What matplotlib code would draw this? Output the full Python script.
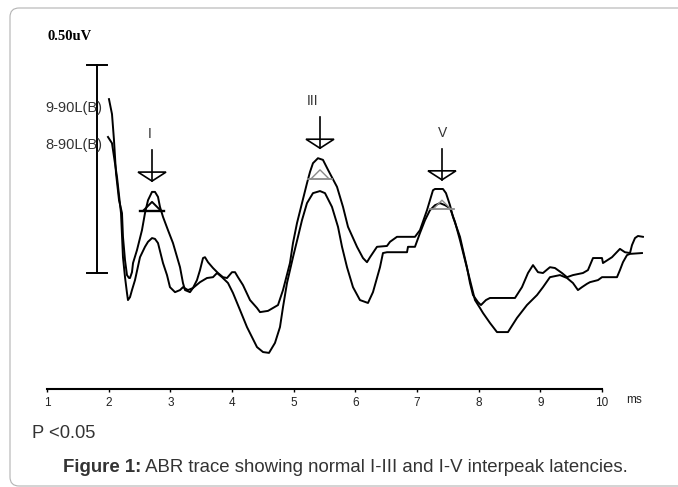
import matplotlib
matplotlib.use("Agg")
import matplotlib.pyplot as plt
import matplotlib.transforms as mtransforms
from matplotlib.patches import FancyBboxPatch, Polygon

plt.rcParams['font.family'] = ['Liberation Sans', 'DejaVu Sans']

# ABR traces, time in ms, amplitude in uV (display offset included)
trace_a_ms = [2.005, 2.054, 2.086, 2.119, 2.168, 2.216, 2.232, 2.265, 2.297, 2.33, 2.346, 2.378,
              2.395, 2.459, 2.54, 2.589, 2.638, 2.703, 2.751, 2.8, 2.832, 2.881, 2.962, 3.043,
              3.157, 3.205, 3.238, 3.319, 3.367, 3.432, 3.481, 3.53, 3.562, 3.611, 3.692, 3.773,
              3.854, 3.919, 4.0, 4.049, 4.097, 4.178, 4.292, 4.405, 4.454, 4.584, 4.746, 4.827,
              4.94, 4.989, 5.054, 5.135, 5.216, 5.265, 5.313, 5.394, 5.475, 5.557, 5.703, 5.8,
              5.881, 6.027, 6.124, 6.189, 6.238, 6.351, 6.513, 6.562, 6.675, 6.967, 7.048, 7.162,
              7.259, 7.292, 7.421, 7.47, 7.535, 7.583, 7.697, 7.746, 7.81, 7.859, 7.908, 7.989,
              8.037, 8.118, 8.183, 8.589, 8.702, 8.8, 8.881, 8.962, 9.043, 9.156, 9.237, 9.351,
              9.432, 9.529, 9.691, 9.772, 9.854, 10.0, 10.016, 10.162, 10.291, 10.372, 10.454,
              10.486, 10.535, 10.583, 10.664]
trace_a_uv = [0.418, 0.382, 0.320, 0.240, 0.175, 0.144, 0.087, 0.031, -0.005, -0.012, -0.012, 0.002,
              0.024, 0.055, 0.103, 0.144, 0.175, 0.195, 0.195, 0.183, 0.159, 0.135, 0.103, 0.072,
              0.014, -0.024, -0.041, -0.046, -0.036, -0.017, 0.007, 0.036, 0.038, 0.026, 0.012, 0.0,
              -0.010, -0.012, 0.002, 0.002, -0.010, -0.029, -0.065, -0.084, -0.094, -0.091, -0.077, -0.041,
              0.024, 0.072, 0.120, 0.168, 0.216, 0.243, 0.264, 0.276, 0.272, 0.248, 0.207, 0.159,
              0.111, 0.063, 0.036, 0.026, 0.038, 0.063, 0.065, 0.075, 0.087, 0.087, 0.103, 0.151,
              0.199, 0.202, 0.202, 0.192, 0.163, 0.135, 0.087, 0.055, 0.014, -0.024, -0.053, -0.070,
              -0.077, -0.065, -0.060, -0.060, -0.034, 0.0, 0.019, 0.002, 0.0, 0.014, 0.012, 0.0,
              -0.010, -0.005, 0.0, 0.007, 0.036, 0.036, 0.024, 0.038, 0.058, 0.050, 0.048,
              0.067, 0.084, 0.089, 0.087]

trace_b_ms = [1.989, 2.054, 2.135, 2.2, 2.232, 2.265, 2.297, 2.313, 2.346, 2.378, 2.427, 2.508,
              2.589, 2.638, 2.703, 2.751, 2.8, 2.881, 2.946, 2.994, 3.076, 3.157, 3.205, 3.286,
              3.367, 3.481, 3.594, 3.692, 3.757, 3.838, 3.935, 4.016, 4.13, 4.243, 4.405, 4.503,
              4.6, 4.697, 4.778, 4.827, 4.892, 4.989, 5.07, 5.135, 5.216, 5.313, 5.427, 5.508,
              5.621, 5.719, 5.784, 5.865, 5.962, 6.075, 6.205, 6.286, 6.4, 6.448, 6.513, 6.838,
              6.854, 6.967, 7.048, 7.13, 7.21, 7.292, 7.373, 7.454, 7.535, 7.616, 7.697, 7.778,
              7.859, 7.94, 8.021, 8.07, 8.183, 8.297, 8.475, 8.621, 8.783, 8.946, 9.043, 9.156,
              9.318, 9.432, 9.529, 9.61, 9.675, 9.756, 9.805, 9.935, 10.0, 10.243, 10.291, 10.34,
              10.405, 10.454, 10.648]
trace_b_uv = [0.327, 0.312, 0.231, 0.144, 0.038, -0.010, -0.048, -0.065, -0.058, -0.041, -0.017, 0.038,
              0.063, 0.075, 0.084, 0.082, 0.072, 0.024, -0.005, -0.034, -0.046, -0.041, -0.034, -0.041,
              -0.036, -0.022, -0.012, -0.010, 0.0, -0.010, -0.024, -0.048, -0.089, -0.130, -0.178, -0.190,
              -0.192, -0.168, -0.130, -0.082, -0.024, 0.038, 0.087, 0.127, 0.168, 0.192, 0.197, 0.192,
              0.159, 0.111, 0.063, 0.014, -0.034, -0.065, -0.072, -0.046, 0.014, 0.048, 0.050, 0.050,
              0.063, 0.063, 0.096, 0.127, 0.151, 0.163, 0.168, 0.163, 0.156, 0.123, 0.079, 0.031,
              -0.017, -0.065, -0.084, -0.096, -0.120, -0.142, -0.142, -0.108, -0.077, -0.053, -0.034, -0.010,
              -0.005, -0.012, -0.024, -0.041, -0.034, -0.026, -0.022, -0.017, -0.010, -0.010, 0.007, 0.026,
              0.043, 0.046, 0.048]

trace_labels = ["9-90L(B)", "8-90L(B)"]

# wave peaks: arrow tip level and marker apex level
peak_names = ["I", "III", "V"]
peak_ms = [2.703, 5.427, 7.405]
arrow_tip_uv = [0.221, 0.300, 0.224]
marker_uv = [0.171, 0.248, 0.175]

scale_bar_uv = 0.50
scale_bar_ms = 1.81

xticks = list(range(1, 11))

W, H = 678, 487
fig = plt.figure(figsize=(W / 100, H / 100), dpi=100)
fig.patch.set_facecolor('white')

# border box, in display pixels
box = FancyBboxPatch((10, 1), 720, 478, boxstyle="round,pad=0,rounding_size=9",
                     transform=mtransforms.IdentityTransform(),
                     facecolor='none', edgecolor='#b3b3b3', linewidth=0.8)
fig.patches.append(box)

# bottom spine is the time axis
ax = fig.add_axes([47 / W, (H - 389) / H, 555 / W, 369 / H])
ax.set_xlim(1, 10)
ax.set_ylim(-0.2788, 0.6082)
ax.patch.set_alpha(0)
for s in ['left', 'top', 'right']:
    ax.spines[s].set_visible(False)
ax.spines['bottom'].set_linewidth(1.5)
ax.set_yticks([])
ax.set_xticks(xticks)
ax.tick_params(axis='x', direction='out', length=2.5, width=1, pad=3,
               labelsize=8.5, labelcolor='#222222')

ax.plot(trace_a_ms, trace_a_uv, color='black', lw=1.4, clip_on=False)
ax.plot(trace_b_ms, trace_b_uv, color='black', lw=1.4, clip_on=False)


def px_at(x, y):
    # offsets in pixels around a data point
    return mtransforms.IdentityTransform() + mtransforms.ScaledTranslation(x, y, ax.transData)


# scale bar
ax.plot([scale_bar_ms, scale_bar_ms], [0, scale_bar_uv], color='black', lw=1.4, clip_on=False)
for lvl in [0, scale_bar_uv]:
    ax.plot([-10, 10], [0, 0], color='black', lw=1.4, transform=px_at(scale_bar_ms, lvl), clip_on=False)

label_dx = [-2, -7, 1]
for i, name in enumerate(peak_names):
    t = peak_ms[i]
    tr = px_at(t, arrow_tip_uv[i])
    ax.plot([0, 0], [0, 31], color='black', lw=1.2, transform=tr, clip_on=False)
    ax.add_patch(Polygon([(-14, 9), (14, 9), (0, 0)], closed=True, fill=False,
                         edgecolor='black', lw=1.2, transform=tr, clip_on=False))
    ax.annotate(name, xy=(t, arrow_tip_uv[i]), xytext=(label_dx[i], 47),
                textcoords='offset pixels', ha='center', va='center',
                fontsize=10, color='#333333')
    # peak marker: triangle over a short bar
    trm = px_at(t, marker_uv[i])
    mcol = 'black' if i == 0 else '#8a8a8a'
    mlw = 1.4 if i == 0 else 1.0
    ax.plot([-9, 0, 9], [-9, 0, -9], color=mcol, lw=mlw, transform=trm, clip_on=False)
    ax.plot([-12, 12], [-9, -9], color=mcol, lw=mlw + 0.3, transform=trm, clip_on=False)

ax.annotate("ms", xy=(10, -0.2788), xytext=(32, -11), textcoords='offset pixels',
            ha='center', va='center', fontsize=8.5, color='#222222')

fig.text(47 / W, 1 - 37 / H, "0.50uV", ha='left', va='center', fontsize=10.5,
         fontweight='bold', family='Liberation Serif', color='black')
fig.text(45 / W, 1 - 108 / H, trace_labels[0], ha='left', va='center', fontsize=10.5, color='#333333')
fig.text(45 / W, 1 - 145 / H, trace_labels[1], ha='left', va='center', fontsize=10.5, color='#333333')

fig.text(32 / W, 1 - 433 / H, "P <0.05", ha='left', va='center', fontsize=13.2, color='#333333')

cap = fig.text(63 / W, 1 - 468 / H, "Figure 1:", ha='left', va='center', fontsize=13.4,
               fontweight='bold', color='#333333')
ax.annotate(" ABR trace showing normal I-III and I-V interpeak latencies.",
            xy=(1, 0.5), xycoords=cap, ha='left', va='center', fontsize=13.4, color='#333333',
            annotation_clip=False)

fig.savefig("out.png", dpi=100)
